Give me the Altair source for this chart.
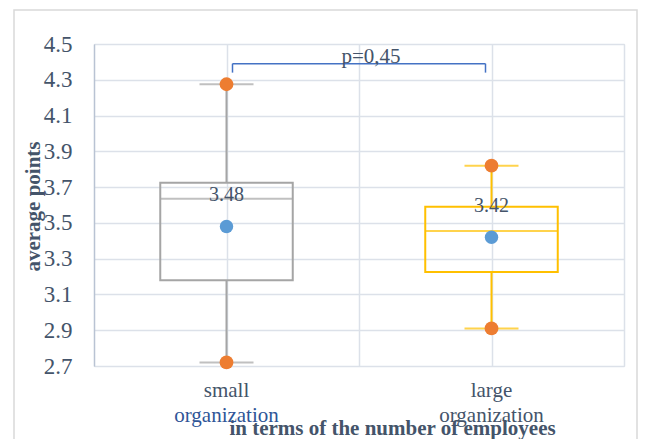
import altair as alt
import pandas as pd

# ---- data ----
categories = ["small organization", "large organization"]
label_top = ["small", "large"]
label_bottom = ["organization", "organization"]
mins = [2.72, 2.91]
q1s = [3.18, 3.225]
medians = [3.635, 3.455]
q3s = [3.725, 3.59]
maxs = [4.275, 3.82]
means = [3.48, 3.42]
mean_labels = ["3.48", "3.42"]
box_colors = ["#A5A5A5", "#FFC000"]
bottom_label_colors = ["#2F5597", "#44546A"]
p_text = "p=0,45"
bracket_top = 4.39
bracket_end = 4.34
y_ticks = [2.7, 2.9, 3.1, 3.3, 3.5, 3.7, 3.9, 4.1, 4.3, 4.5]
x_title = "in terms of the number of employees"
y_title = "average points"

FONT = "Liberation Serif"
TXT = "#44546A"
GRID = "#DCE1E9"

df = pd.DataFrame({
    "category": categories,
    "pos": [i + 0.5 for i in range(len(categories))],
    "top": label_top,
    "bottom": label_bottom,
    "bcolor": bottom_label_colors,
    "min": mins, "q1": q1s, "median": medians, "q3": q3s, "max": maxs,
    "mean": means, "mlabel": mean_labels,
})

n = len(categories)
x_grid = [0.5 * (i + 1) for i in range(2 * n)]

xs = alt.Scale(domain=[0, n], nice=False, zero=False)
ys = alt.Scale(domain=[y_ticks[0], y_ticks[-1]], nice=False, zero=False)
color = alt.Color("category:N", scale=alt.Scale(domain=categories, range=box_colors), legend=None)

X_AXIS = alt.Axis(
    values=x_grid, labels=False, ticks=False, domain=False,
    grid=True, gridColor=GRID, gridWidth=1.5,
    titleFont=FONT, titleFontSize=21, titleFontWeight="bold", titleColor=TXT,
    titleX=298, titleY=68, titleAlign="center", titleBaseline="alphabetic")
Y_AXIS = alt.Axis(
    values=y_ticks, format=".1f", labelOverlap=False,
    ticks=False, labelPadding=22, labelFont=FONT, labelFontSize=23, labelColor=TXT,
    grid=True, gridColor=GRID, gridWidth=1.5,
    domain=True, domainColor="#B9C3D3", domainWidth=1.5,
    titleFont=FONT, titleFontSize=21, titleFontWeight="bold", titleColor=TXT,
    titleX=-61, titleY=162, titleAlign="center", titleBaseline="middle", titleAngle=-90)


def Xf(f):
    return alt.X(f, scale=xs, title=x_title, axis=X_AXIS)


def Yf(f):
    return alt.Y(f, scale=ys, title=y_title, axis=Y_AXIS)


base = alt.Chart(df)

frame = alt.Chart(pd.DataFrame({"a": [0]})).mark_rect(
    fill=None, stroke="#D9D9D9", strokeWidth=1.5, clip=False
).encode(x=alt.value(-80), x2=alt.value(543), y=alt.value(-34), y2=alt.value(420))

whisk_lo = base.mark_rule(strokeWidth=2).encode(
    x=Xf("pos:Q"), y=Yf("min:Q"), y2="q1:Q", color=color)
whisk_hi = base.mark_rule(strokeWidth=2).encode(
    x=Xf("pos:Q"), y=Yf("q3:Q"), y2="max:Q", color=color)
cap_lo = base.mark_tick(orient="horizontal", size=54, thickness=2).encode(
    x=Xf("pos:Q"), y=Yf("min:Q"), color=color)
cap_hi = base.mark_tick(orient="horizontal", size=54, thickness=2).encode(
    x=Xf("pos:Q"), y=Yf("max:Q"), color=color)
box = base.transform_calculate(xl="datum.pos - 0.25", xr="datum.pos + 0.25").mark_rect(
    fillOpacity=0, strokeWidth=2).encode(
    x=Xf("xl:Q"), x2="xr:Q", y=Yf("q1:Q"), y2="q3:Q", stroke=color)
med = base.mark_tick(orient="horizontal", size=133, thickness=2).encode(
    x=Xf("pos:Q"), y=Yf("median:Q"), color=color)

pt_min = base.mark_circle(size=190, opacity=1, color="#ED7D31").encode(x=Xf("pos:Q"), y=Yf("min:Q"))
pt_max = base.mark_circle(size=190, opacity=1, color="#ED7D31").encode(x=Xf("pos:Q"), y=Yf("max:Q"))
pt_mean = base.mark_circle(size=180, opacity=1, color="#5B9BD5").encode(x=Xf("pos:Q"), y=Yf("mean:Q"))
mean_txt = base.mark_text(dy=-31, font=FONT, fontSize=20, color=TXT, baseline="middle").encode(
    x=Xf("pos:Q"), y=Yf("mean:Q"), text="mlabel:N")

lab_top = base.mark_text(font=FONT, fontSize=21, color=TXT, baseline="alphabetic").encode(
    x=Xf("pos:Q"), y=alt.value(353), text="top:N")
lab_bot = base.mark_text(font=FONT, fontSize=21, baseline="alphabetic").encode(
    x=Xf("pos:Q"), y=alt.value(378), text="bottom:N", color=alt.Color("bcolor:N", scale=None))

bdf = pd.DataFrame({
    "x1": [df["pos"].iloc[0]], "x2": [df["pos"].iloc[1]],
    "ytop": [bracket_top], "yend": [bracket_end], "label": [p_text],
    "xm": [(df["pos"].iloc[0] + df["pos"].iloc[1]) / 2],
})
bbase = alt.Chart(bdf)
br_h = bbase.mark_rule(color="#4472C4", strokeWidth=1.5, xOffset=6, x2Offset=-6).encode(
    x=Xf("x1:Q"), x2="x2:Q", y=Yf("ytop:Q"))
br_l = bbase.mark_rule(color="#4472C4", strokeWidth=1.5, xOffset=6).encode(
    x=Xf("x1:Q"), y=Yf("ytop:Q"), y2="yend:Q")
br_r = bbase.mark_rule(color="#4472C4", strokeWidth=1.5, xOffset=-6).encode(
    x=Xf("x2:Q"), y=Yf("ytop:Q"), y2="yend:Q")
p_lab = bbase.mark_text(font=FONT, fontSize=21, color=TXT, baseline="alphabetic", dx=12, dy=-1).encode(
    x=Xf("xm:Q"), y=Yf("ytop:Q"), text="label:N")

chart = alt.layer(
    frame, whisk_lo, whisk_hi, box, med, cap_lo, cap_hi,
    pt_min, pt_max, pt_mean, mean_txt, lab_top, lab_bot,
    br_h, br_l, br_r, p_lab,
).properties(
    width=530, height=322,
    autosize=alt.AutoSizeParams(type="none"),
    padding={"left": 86, "top": 36, "right": 14, "bottom": 73},
).configure_view(stroke=None).configure(background="white")

chart.save("out.html", embed_options={"renderer": "svg", "actions": False})
